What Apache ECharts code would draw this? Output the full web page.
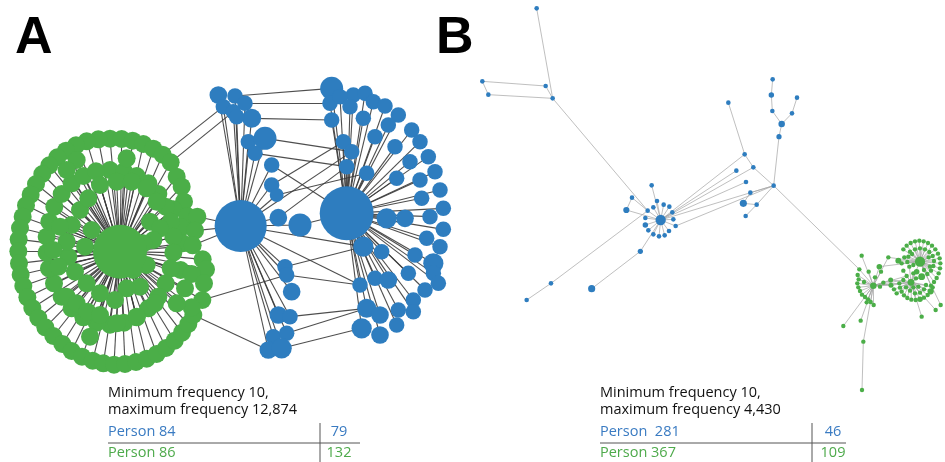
<!DOCTYPE html>
<html>
<head>
<meta charset="utf-8">
<script src="https://cdn.jsdelivr.net/npm/echarts@6/dist/echarts.min.js"></script>
<style>
  html, body { margin: 0; padding: 0; background: #fff; }
  #chart { width: 945px; height: 462px; }
</style>
</head>
<body>
<div id="chart"></div>
<script>
// layout positions, [x, y, weight] (weight defaults to 1)
// panel A, layout units 0-1410 x 0-930
const aHubNames = ['HL', 'HR', 'HG']
const aHubNodes = [[722, 468, 11.3], [1040, 430, 12.1], [360, 545, 9]]
const aHubPerson = [84, 84, 86]

// blue nodes linked to hub HL
const aLeft = [
  [655, 75, 1.3], [705, 78], [670, 110], [735, 100], [700, 125], [755, 145, 1.5],
  [745, 215], [795, 205, 2.2], [765, 250], [815, 285], [815, 345], [830, 375, 0.8],
  [835, 443, 1.3], [900, 465, 2.2], [855, 590], [860, 615], [875, 665, 1.3], [835, 735, 1.3],
  [870, 740], [820, 800], [860, 790], [805, 840, 1.3], [845, 835, 1.7], [710, 140]
]
// blue nodes linked to hub HR
const aRight = [
  [995, 55, 2.2], [1060, 75], [1095, 70], [1120, 95], [1155, 108], [990, 100],
  [995, 150], [1090, 145], [1195, 135], [1165, 165], [1235, 180], [1125, 200],
  [1260, 215], [1030, 215], [1055, 245], [1040, 290], [1185, 230], [1285, 260],
  [1230, 275], [1100, 310], [1190, 325], [1305, 305], [1260, 330], [1320, 360],
  [1265, 385], [1330, 415], [1290, 440], [1160, 445, 1.7], [1215, 445, 1.3], [1330, 478],
  [1280, 505], [1320, 530], [1090, 530, 1.7], [1145, 545], [1245, 555], [1300, 580, 1.7],
  [1225, 610], [1080, 645], [1125, 625], [1165, 630, 1.3], [1275, 660], [1240, 690],
  [1100, 715, 1.5], [1140, 735, 1.3], [1195, 720], [1240, 725], [1085, 775, 1.7], [1140, 795, 1.3],
  [1190, 765], [1300, 610], [1020, 80], [1315, 640], [1050, 110]
]
// green nodes linked to hub HG
const aGreen = [
  [330, 206], [365, 207], [398, 212], [430, 222], [460, 236], [488, 254], [512, 277], [295, 208],
  [260, 214], [228, 226], [198, 242], [172, 262], [148, 286], [127, 312], [108, 342], [92, 374],
  [78, 406], [68, 440], [60, 474], [56, 508], [55, 544], [57, 580], [62, 614], [70, 648],
  [82, 682], [97, 714], [115, 744], [136, 772], [160, 798], [187, 822], [215, 843], [246, 860],
  [278, 872], [310, 880], [342, 884], [375, 882], [408, 876], [440, 866], [470, 852], [498, 834],
  [524, 812], [546, 788], [565, 762], [580, 735],
  [530, 320], [545, 350], [552, 395], [520, 418], [562, 438], [592, 440], [545, 472], [585, 482],
  [548, 520], [578, 526], [608, 568], [618, 598], [542, 600], [575, 612], [612, 640], [555, 655],
  [607, 690], [575, 712], [530, 700],
  [330, 300], [372, 304], [410, 318], [445, 340], [475, 372], [497, 410], [512, 455], [520, 500],
  [520, 548], [512, 595], [497, 640], [475, 680], [445, 715], [410, 742], [372, 758], [330, 764],
  [290, 758], [250, 742], [215, 715], [185, 680], [162, 640], [147, 595], [140, 548], [140, 500],
  [148, 455], [163, 410], [185, 372], [215, 340], [250, 318], [288, 304], [230, 270], [200, 300],
  [380, 265], [270, 800],
  [300, 345], [350, 335], [395, 335], [440, 355], [470, 395], [450, 455], [480, 475], [460, 510],
  [440, 585], [420, 650], [380, 655], [345, 690], [300, 670], [260, 640], [225, 605], [205, 560],
  [200, 515], [215, 465], [240, 420], [265, 385], [255, 530], [180, 470], [160, 540], [175, 590],
  [200, 680], [230, 700], [262, 725], [300, 735], [350, 760], [410, 740], [465, 700], [400, 600],
  [275, 480], [430, 520]
]
const aExtraLinks = [
  ['L1', 'R0'], ['L3', 'R5'], ['L5', 'R6'], ['L7', 'R14'], ['L8', 'R15'], ['L9', 'HR'],
  ['L10', 'R13'], ['L13', 'HR'], ['HL', 'R14'], ['HL', 'R32'], ['L14', 'R32'], ['L15', 'R37'],
  ['HL', 'R37'], ['L18', 'R42'], ['L20', 'R42'], ['L22', 'R46'], ['L11', 'R19'], ['L12', 'R15'],
  ['G5', 'L2'], ['G6', 'L4'], ['G49', 'HL'], ['G51', 'HL'], ['G53', 'HL'], ['G60', 'L15'], ['G43', 'L21']
]

// panel B, layout units 0-1425 x 0-1200
const bHubNames = ['BH', 'GL', 'GM', 'GS']
const bHubNodes = [[572, 660, 5], [1210, 857, 2], [1350, 785, 5], [1323, 847, 2.2]]
const bHubPerson = [281, 367, 367, 367]

// blue nodes linked to hub BH
const bStar = [
  [545, 556], [533, 632], [550, 622], [561, 603], [581, 614], [598, 620], [607, 637], [526, 654],
  [610, 658], [526, 675, 1.4], [617, 678], [535, 691], [550, 703], [567, 709], [584, 706], [597, 693],
  [469, 630, 1.8], [799, 512], [828, 546], [911, 557], [850, 502], [824, 463], [511, 754, 1.3]
]
// other blue nodes
const bOther = [
  [200, 25], [37, 244], [55, 284], [227, 258], [248, 295], [775, 308], [908, 238], [904, 285, 1.4],
  [907, 333], [981, 293], [966, 340], [935, 372, 2], [927, 410, 1.3], [841, 578], [820, 610, 2.4],
  [860, 614], [827, 648], [486, 593], [243, 850], [170, 900], [365, 866, 2.4]
]
// green nodes linked to GL, GM, GS
const bGreenL = [
  [1175, 767], [1168, 808], [1163, 825], [1166, 838], [1162, 850], [1165, 862], [1170, 873],
  [1176, 884], [1185, 891], [1194, 898], [1202, 906], [1211, 915], [1190, 907], [1182, 846],
  [1120, 978], [1172, 962], [1180, 1025], [1215, 832], [1196, 815], [1230, 860], [1240, 848], [1233, 815]
]
const bGreenM = [
  [1300, 748], [1310, 737], [1322, 729], [1335, 724], [1348, 722], [1361, 724], [1374, 729],
  [1386, 737], [1396, 748], [1404, 761], [1409, 775], [1411, 790], [1410, 805], [1406, 820],
  [1400, 834], [1392, 846], [1383, 857], [1303, 772], [1295, 790], [1320, 755], [1335, 748],
  [1350, 745], [1365, 748], [1378, 756], [1388, 768], [1392, 783], [1390, 798], [1383, 812],
  [1372, 822], [1315, 770], [1312, 786], [1285, 782, 1.8], [1255, 772], [1412, 915],
  [1326, 762], [1376, 772], [1380, 800], [1362, 810], [1330, 795]
]
const bGreenS = [
  [1288, 850], [1290, 863], [1295, 875], [1302, 886], [1312, 894], [1324, 899], [1337, 900],
  [1350, 898, 1.6], [1362, 893], [1373, 885], [1382, 874, 2], [1388, 862], [1300, 840], [1310, 828],
  [1330, 820], [1355, 830, 2.4], [1340, 815, 1.6], [1355, 950], [1397, 930], [1308, 862], [1320, 872],
  [1335, 880], [1350, 878], [1362, 868], [1368, 855], [1280, 880], [1272, 868], [1262, 840, 1.3],
  [1263, 856, 1.3], [1300, 812], [1318, 800], [1338, 835], [1345, 860], [1330, 862]
]
const bGreenOther = [[1228, 800, 1.6], [1176, 1170]]
const bExtraLinks = [
  ['o0', 'o4'], ['o1', 'o3'], ['o1', 'o2'], ['o2', 'o4'], ['o3', 'o4'], ['o4', 's1'], ['o5', 's21'],
  ['o6', 'o7'], ['o7', 'o8'], ['o8', 'o11'], ['o9', 'o10'], ['o10', 'o11'], ['o11', 'o12'], ['o12', 's19'],
  ['s21', 's20'], ['s20', 's19'], ['s19', 's10'], ['s19', 'o13'], ['s19', 'o15'], ['o13', 'o14'],
  ['o14', 'o15'], ['o15', 'o16'], ['o17', 's16'], ['o17', 's1'], ['o20', 's22'], ['o19', 'o18'],
  ['o18', 's1'], ['s19', 'gl1'],
  ['go0', 'GL'], ['go0', 'GM'], ['gl16', 'go1'], ['GL', 'GS'], ['GM', 'GS'], ['GL', 'gs12'],
  ['GL', 'gs13'], ['GL', 'gs0'], ['GL', 'gs27'], ['GL', 'gs28'], ['gm32', 'GL']
]

// table under each panel
const panelLetters = ['A', 'B']
const freqNotes = [
  ['Minimum frequency 10,', 'maximum frequency 12,874'],
  ['Minimum frequency 10,', 'maximum frequency 4,430']
]
const personLabels = [['Person 84', 'Person 86'], ['Person  281', 'Person 367']]
const nodeCounts = [[79, 132], [46, 109]]

const BLUE = '#2e7dbf'
const GREEN = '#4bae48'
const BLUE_TEXT = '#3a7bc2'
const GREEN_TEXT = '#4eaa4b'

const personColor = { 84: BLUE, 86: GREEN, 281: BLUE, 367: GREEN }

const toNodes = (list, prefix, color, base) => list.map((p, i) => ({
  name: prefix + i,
  value: [p[0], p[1]],
  symbolSize: base * Math.sqrt(p[2] || 1),
  itemStyle: { color }
}))
const hubNodes = (names, list, persons, base) => list.map((p, i) => ({
  name: names[i],
  value: [p[0], p[1]],
  symbolSize: base * Math.sqrt(p[2]),
  itemStyle: { color: personColor[persons[i]] }
}))
const star = (list, prefix, hub) => list.map((p, i) => ({ source: hub, target: prefix + i }))
const pairs = (list) => list.map(([s, t]) => ({ source: s, target: t }))

const aNodes = [
  ...toNodes(aGreen, 'G', GREEN, 18),
  ...toNodes(aLeft, 'L', BLUE, 15.5),
  ...toNodes(aRight, 'R', BLUE, 15.5),
  ...hubNodes(aHubNames, aHubNodes, aHubPerson, 15.5)
]
// the green hub uses the green base size
aNodes[aNodes.length - 1].symbolSize = 18 * Math.sqrt(aHubNodes[2][2])
const aLinks = [
  ...star(aGreen, 'G', 'HG'),
  ...star(aLeft, 'L', 'HL'),
  ...star(aRight, 'R', 'HR'),
  ...pairs(aExtraLinks)
]
const bNodes = [
  ...toNodes(bStar, 's', BLUE, 4.6),
  ...toNodes(bOther, 'o', BLUE, 4.6),
  ...toNodes(bGreenL, 'gl', GREEN, 4.4),
  ...toNodes(bGreenM, 'gm', GREEN, 4.4),
  ...toNodes(bGreenS, 'gs', GREEN, 4.4),
  ...toNodes(bGreenOther, 'go', GREEN, 4.4),
  ...hubNodes(bHubNames, bHubNodes, bHubPerson, 4.6)
]
const bLinks = [
  ...star(bStar, 's', 'BH'),
  ...star(bGreenL, 'gl', 'GL'),
  ...star(bGreenM, 'gm', 'GM'),
  ...star(bGreenS, 'gs', 'GS'),
  ...pairs(bExtraLinks)
]

const chart = echarts.init(document.getElementById('chart'), null, { renderer: 'canvas' })

const FONT = '"Open Sans", "Noto Sans", sans-serif'
const tableGraphics = []
const tableX = [108, 600]
const numX = [339, 833]
const vLineX = [320, 812]
const hLineEnd = [360, 846]
panelLetters.forEach((letter, k) => {
  tableGraphics.push({
    type: 'text', x: [15, 436][k], y: 39,
    style: { text: letter, font: 'bold 52px "Liberation Sans", Arial, sans-serif', fill: '#000', verticalAlign: 'middle' }
  })
  freqNotes[k].forEach((t, j) => tableGraphics.push({
    type: 'text', x: tableX[k], y: 393 + j * 17,
    style: { text: t, font: '14.5px ' + FONT, fill: '#111', verticalAlign: 'middle' }
  }))
  personLabels[k].forEach((t, j) => {
    const c = j === 0 ? BLUE_TEXT : GREEN_TEXT
    tableGraphics.push({
      type: 'text', x: tableX[k], y: 432 + j * 21,
      style: { text: t, font: '14.5px ' + FONT, fill: c, verticalAlign: 'middle' }
    })
    tableGraphics.push({
      type: 'text', x: numX[k], y: 432 + j * 21,
      style: { text: String(nodeCounts[k][j]), font: '14.5px ' + FONT, fill: c, verticalAlign: 'middle', align: 'center' }
    })
  })
  tableGraphics.push({
    type: 'line', shape: { x1: tableX[k], y1: 443, x2: hLineEnd[k], y2: 443 },
    style: { stroke: '#555', lineWidth: 1 }
  })
  tableGraphics.push({
    type: 'line', shape: { x1: vLineX[k], y1: 423, x2: vLineX[k], y2: 462 },
    style: { stroke: '#555', lineWidth: 1 }
  })
})

chart.setOption({
  animation: false,
  backgroundColor: '#fff',
  grid: [
    { left: 0, top: 70, width: 470, height: 310 },
    { left: 470, top: 0, width: 475, height: 400 }
  ],
  xAxis: [
    { type: 'value', gridIndex: 0, min: 0, max: 1410, show: false },
    { type: 'value', gridIndex: 1, min: 0, max: 1425, show: false }
  ],
  yAxis: [
    { type: 'value', gridIndex: 0, min: 0, max: 930, inverse: true, show: false },
    { type: 'value', gridIndex: 1, min: 0, max: 1200, inverse: true, show: false }
  ],
  graphic: tableGraphics,
  series: [
    {
      type: 'graph',
      layout: 'none',
      coordinateSystem: 'cartesian2d',
      xAxisIndex: 0,
      yAxisIndex: 0,
      silent: true,
      symbol: 'circle',
      data: aNodes,
      links: aLinks,
      lineStyle: { color: '#3b3b3b', width: 1.1, opacity: 0.9, curveness: 0 },
      label: { show: false },
      emphasis: { disabled: true }
    },
    {
      type: 'graph',
      layout: 'none',
      coordinateSystem: 'cartesian2d',
      xAxisIndex: 1,
      yAxisIndex: 1,
      silent: true,
      symbol: 'circle',
      data: bNodes,
      links: bLinks,
      lineStyle: { color: '#a6a6a6', width: 0.8, opacity: 0.9, curveness: 0 },
      label: { show: false },
      emphasis: { disabled: true }
    }
  ]
})
</script>
</body>
</html>
